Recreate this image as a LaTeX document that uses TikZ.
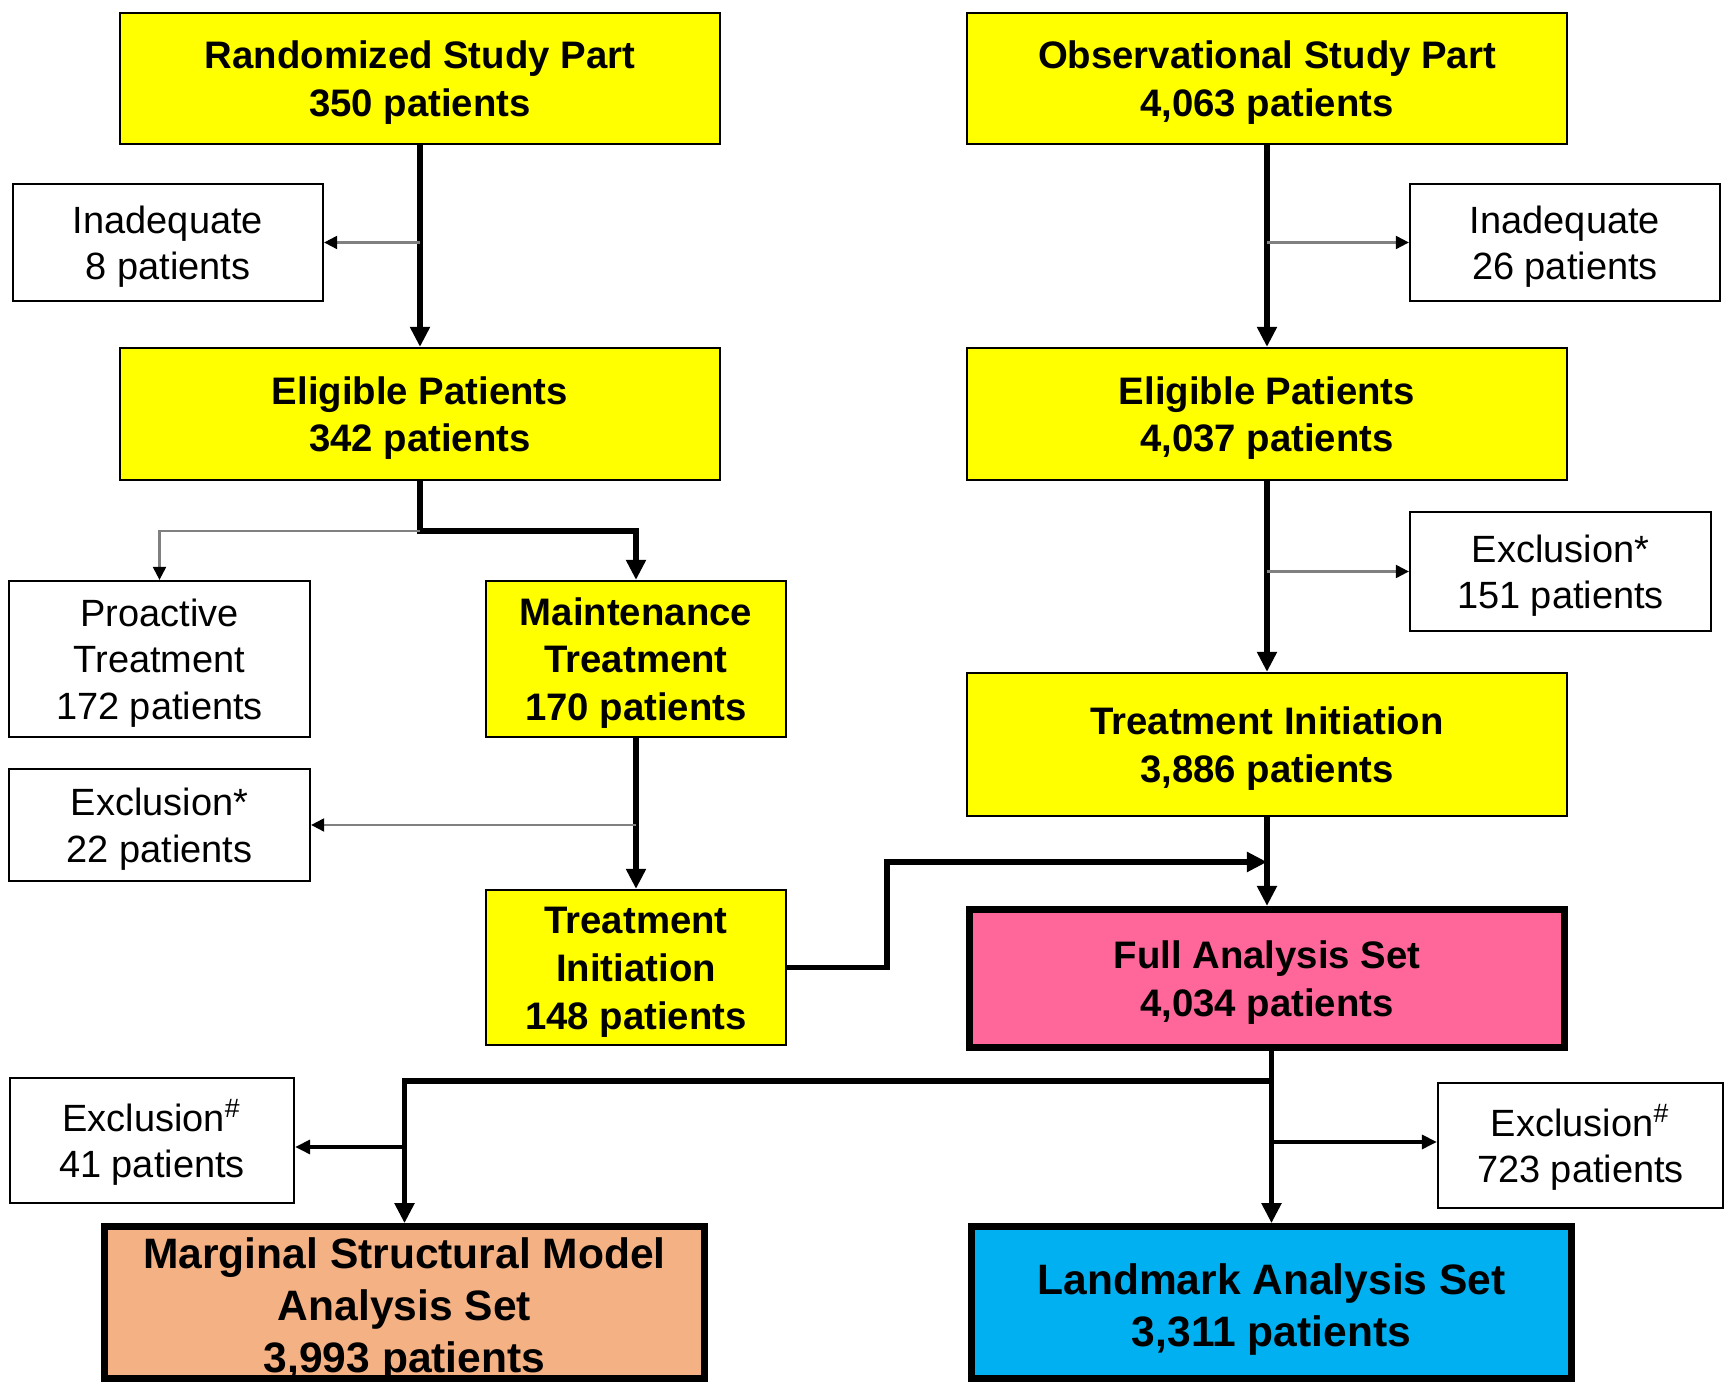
\documentclass[tikz,border=0pt]{standalone}
\usepackage{fontspec}
\setmainfont{Liberation Sans}
\usetikzlibrary{arrows.meta,calc}
\definecolor{ylw}{HTML}{FFFF00}
\definecolor{fasc}{HTML}{FF6699}
\definecolor{msmc}{HTML}{F4B183}
\definecolor{lmc}{HTML}{00B0F0}
\newcommand{\fln}{\rule{0pt}{10.2pt}}
\newcommand{\flb}{\rule{0pt}{12.8pt}}
\begin{document}
\begin{tikzpicture}[x=0.01cm,y=-0.01cm,
  box/.style={draw=black, line width=0.6pt, align=center, inner sep=0pt},
  boldfont/.style={font=\fontsize{10.9}{13.6}\selectfont\bfseries},
  ybox/.style={box, fill=ylw, boldfont},
  wbox/.style={box, fill=white, font=\fontsize{10.8}{13.3}\selectfont},
  bigbox/.style={draw=black, line width=2pt, align=center, inner sep=0pt, font=\fontsize{12.1}{14.8}\selectfont\bfseries},
  mainarr/.style={line width=1.7pt, line join=miter, -{Triangle[length=0.2cm,width=0.19cm]}},
  thinarr/.style={draw=black!50, line width=0.6pt, -{Triangle[length=0.13cm,width=0.13cm,color=black]}},
  blkarr/.style={draw=black, line width=0.9pt, -{Triangle[length=0.15cm,width=0.14cm]}}
]
\useasboundingbox (0,0) rectangle (1729,1383);
\fill[white] (0,0) rectangle (1729,1383);

% nodes
\node[ybox, minimum width=6.0cm, minimum height=1.31cm] (rand) at (420,78.5) {\fln Randomized Study Part\\350 patients};
\node[ybox, minimum width=6.0cm, minimum height=1.31cm] (obs) at (1267,78.5) {\fln Observational Study Part\\4,063 patients};
\node[wbox, minimum width=3.1cm, minimum height=1.17cm] (inadL) at (168,242.5) {\fln Inadequate\\8 patients};
\node[wbox, minimum width=3.1cm, minimum height=1.17cm] (inadR) at (1565,242.5) {\fln Inadequate\\26 patients};
\node[ybox, minimum width=6.0cm, minimum height=1.32cm] (eligL) at (420,414) {\fln Eligible Patients\\342 patients};
\node[ybox, minimum width=6.0cm, minimum height=1.32cm] (eligR) at (1267,414) {\fln Eligible Patients\\4,037 patients};
\node[wbox, minimum width=3.01cm, minimum height=1.56cm] (pro) at (159.5,659) {\fln Proactive\\Treatment\\172 patients};
\node[ybox, minimum width=3.0cm, minimum height=1.56cm] (maint) at (636,659) {\fln Maintenance\\Treatment\\170 patients};
\node[wbox, minimum width=3.01cm, minimum height=1.19cm] (exclR) at (1560.5,571.5) {\fln Exclusion*\\151 patients};
\node[ybox, minimum width=6.0cm, minimum height=1.43cm] (tiR) at (1267,744.5) {\fln Treatment Initiation\\3,886 patients};
\node[wbox, minimum width=3.01cm, minimum height=1.12cm] (exclL) at (159.5,825) {\fln Exclusion*\\22 patients};
\node[ybox, minimum width=3.0cm, minimum height=1.55cm] (tiL) at (636,967.5) {\fln Treatment\\Initiation\\148 patients};
\node[draw=black, line width=2pt, align=center, inner sep=0pt, fill=fasc, boldfont, minimum width=5.95cm, minimum height=1.38cm] (fas) at (1267,978.5) {\fln Full Analysis Set\\4,034 patients};
\node[wbox, minimum width=2.84cm, minimum height=1.25cm] (exhL) at (152,1140.5) {\fln Exclusion\textsuperscript{\#}\\41 patients};
\node[wbox, minimum width=2.85cm, minimum height=1.25cm] (exhR) at (1580.5,1145.5) {\fln Exclusion\textsuperscript{\#}\\723 patients};
\node[bigbox, fill=msmc, inner ysep=-4pt, minimum width=6.0cm, minimum height=1.52cm] (msm) at (404.5,1302.75) {\flb Marginal Structural Model\\Analysis Set\\3,993 patients};
\node[bigbox, fill=lmc, minimum width=6.0cm, minimum height=1.52cm] (lm) at (1271.5,1302.75) {\flb Landmark Analysis Set\\3,311 patients};

% helper coordinates
\coordinate (br) at (420,531);
\coordinate (jx) at (887,862);
\coordinate (bh) at (404.5,1081);
\coordinate (ehl) at (404.5,1147);
\coordinate (ehr) at (1271.5,1142);
% connectors left column
\draw[mainarr] (rand) -- (eligL);
\draw[thinarr] (rand.south |- inadL.east) -- (inadL.east);
\draw[mainarr] (eligL.south) -- (br) -| (maint.north);
\draw[thinarr] (br) -| (pro.north);
\draw[mainarr] (maint) -- (tiL);
\draw[thinarr] (maint.south |- exclL.east) -- (exclL.east);
% right column
\draw[mainarr] (obs) -- (eligR);
\draw[thinarr] (obs.south |- inadR.west) -- (inadR.west);
\draw[mainarr] (eligR) -- (tiR);
\draw[thinarr] (eligR.south |- exclR.west) -- (exclR.west);
\draw[mainarr] (tiR) -- (fas);
\draw[mainarr] (tiL.east) -| (jx) -- (tiR.south |- jx);
% bottom
\draw[mainarr] (lm.north |- fas.south) -- (lm.north);
\draw[mainarr] (lm.north |- bh) -- (bh) -- (msm.north);
\draw[blkarr] (ehl) -- (exhL.east |- ehl);
\draw[blkarr] (ehr) -- (exhR.west |- ehr);
\end{tikzpicture}
\end{document}
